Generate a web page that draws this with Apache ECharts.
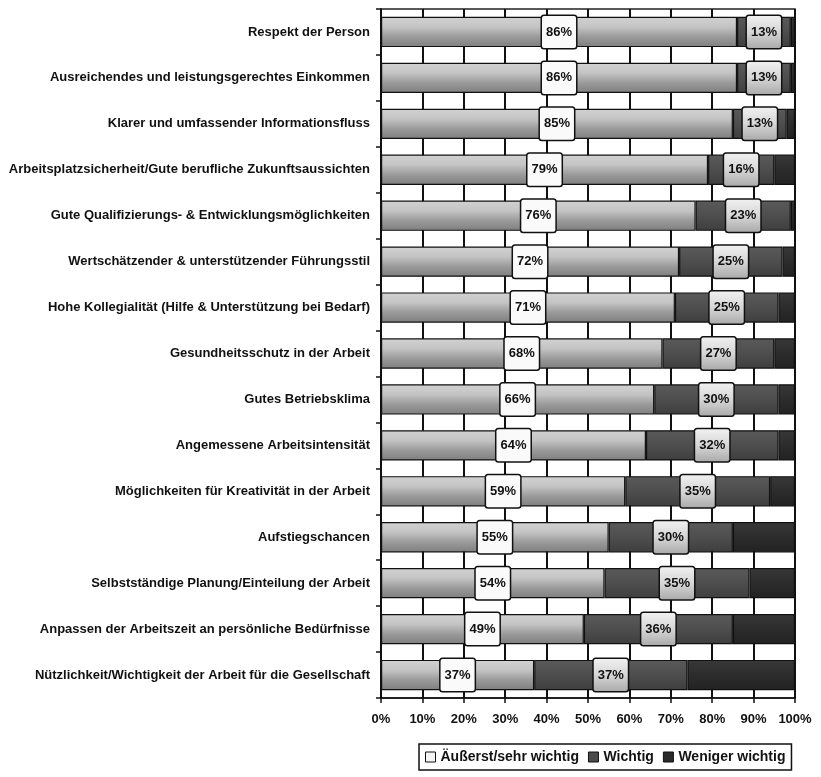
<!DOCTYPE html>
<html>
<head>
<meta charset="utf-8">
<script src="https://cdn.jsdelivr.net/npm/echarts@6/dist/echarts.min.js"></script>
<style>
html,body{margin:0;padding:0;background:#fff;}
#chart{width:821px;height:777px;}
</style>
</head>
<body>
<div id="chart"></div>
<script>
// Kategorien (von oben nach unten)
const categories = [
  'Respekt der Person',
  'Ausreichendes und leistungsgerechtes Einkommen',
  'Klarer und umfassender Informationsfluss',
  'Arbeitsplatzsicherheit/Gute berufliche Zukunftsaussichten',
  'Gute Qualifizierungs- & Entwicklungsmöglichkeiten',
  'Wertschätzender & unterstützender Führungsstil',
  'Hohe Kollegialität (Hilfe & Unterstützung bei Bedarf)',
  'Gesundheitsschutz in der Arbeit',
  'Gutes Betriebsklima',
  'Angemessene Arbeitsintensität',
  'Möglichkeiten für Kreativität in der Arbeit',
  'Aufstiegschancen',
  'Selbstständige Planung/Einteilung der Arbeit',
  'Anpassen der Arbeitszeit an persönliche Bedürfnisse',
  'Nützlichkeit/Wichtigkeit der Arbeit für die Gesellschaft'
];
const seriesNames = ['Äußerst/sehr wichtig', 'Wichtig', 'Weniger wichtig'];
const sehrWichtig    = [86, 86, 85, 79, 76, 72, 71, 68, 66, 64, 59, 55, 54, 49, 37];
const wichtig        = [13, 13, 13, 16, 23, 25, 25, 27, 30, 32, 35, 30, 35, 36, 37];
const wenigerWichtig = [1, 1, 2, 5, 1, 3, 4, 5, 4, 4, 6, 15, 11, 15, 26];
const xTicks = [0, 10, 20, 30, 40, 50, 60, 70, 80, 90, 100];

const FONT = '"Liberation Sans Narrow", "Liberation Sans", Arial, sans-serif';

function vgrad(stops) {
  return new echarts.graphic.LinearGradient(0, 0, 0, 1,
    stops.map((c, i) => ({ offset: i / (stops.length - 1), color: c })));
}

const labelBase = {
  show: true,
  position: 'inside',
  formatter: p => p.value + '%',
  color: '#111',
  fontFamily: FONT,
  fontWeight: 'bold',
  fontSize: 13,
  borderColor: '#111',
  borderWidth: 1.5,
  borderRadius: 2,
  padding: [10, 4, 9, 4]
};

const chart = echarts.init(document.getElementById('chart'), null, { renderer: 'canvas' });
chart.setOption({
  backgroundColor: '#fff',
  animation: false,
  textStyle: { fontFamily: FONT },
  grid: {
    left: 381, right: 26, top: 9, bottom: 79,
    show: true, borderColor: '#222', borderWidth: 1.5, backgroundColor: 'transparent'
  },
  legend: {
    bottom: 7,
    left: 419,
    itemWidth: 10, itemHeight: 10, itemGap: 9,
    borderColor: '#111', borderWidth: 1.5, padding: [6, 6, 6, 6],
    icon: 'rect',
    textStyle: { fontFamily: FONT, fontWeight: 'bold', fontSize: 14, color: '#111' },
    data: seriesNames.map((n, i) => ({
      name: n,
      itemStyle: { color: ['#f4f4f4', '#4a4a4a', '#2a2a2a'][i], borderColor: '#111', borderWidth: 1 }
    }))
  },
  xAxis: {
    type: 'value', min: 0, max: 100, interval: 10,
    axisLine: { show: true, lineStyle: { color: '#111', width: 1.5 } },
    axisTick: { show: true, length: 5, lineStyle: { color: '#111', width: 1.5 } },
    axisLabel: { formatter: v => v + '%', color: '#111', fontWeight: 'bold', fontSize: 13, margin: 15, fontFamily: FONT },
    splitLine: { show: true, lineStyle: { color: '#111', width: 2 } }
  },
  yAxis: {
    type: 'category', data: categories, inverse: true,
    axisLine: { show: true, lineStyle: { color: '#111', width: 1.5 } },
    axisTick: { show: true, length: 5, inside: false, lineStyle: { color: '#111', width: 1.5 } },
    axisLabel: { color: '#111', fontWeight: 'bold', fontSize: 13, margin: 11, fontFamily: FONT }
  },
  series: [
    {
      name: seriesNames[0], type: 'bar', stack: 'total', data: sehrWichtig,
      barCategoryGap: '34%',
      itemStyle: { color: vgrad(['#d2d2d2', '#c4c4c4', '#9a9a9a', '#7e7e7e']), borderColor: '#111', borderWidth: 1.2 },
      label: Object.assign({}, labelBase, { backgroundColor: '#fafafa' })
    },
    {
      name: seriesNames[1], type: 'bar', stack: 'total', data: wichtig,
      itemStyle: { color: vgrad(['#5a5a5a', '#4e4e4e', '#3e3e3e']), borderColor: '#111', borderWidth: 1.2 },
      label: Object.assign({}, labelBase, { backgroundColor: vgrad(['#f2f2f2', '#d6d6d6', '#a8a8a8']) })
    },
    {
      name: seriesNames[2], type: 'bar', stack: 'total', data: wenigerWichtig,
      itemStyle: { color: vgrad(['#383838', '#2c2c2c', '#222222']), borderColor: '#111', borderWidth: 1.2 },
      label: { show: false }
    }
  ]
});
</script>
</body>
</html>
